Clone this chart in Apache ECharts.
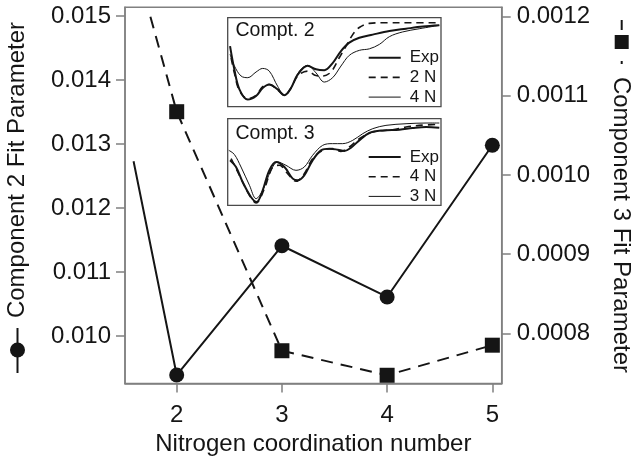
<!DOCTYPE html>
<html>
<head>
<meta charset="utf-8">
<script src="https://cdn.jsdelivr.net/npm/echarts@6/dist/echarts.min.js"></script>
<style>html,body{margin:0;padding:0;background:#fff;}#c{width:641px;height:465px;}</style>
</head>
<body>
<div id="c"></div>
<script>
// ---- main chart data ----
const xTicks = [2, 3, 4, 5];
const leftTicks = [0.010, 0.011, 0.012, 0.013, 0.014, 0.015];
const rightTicks = [0.0008, 0.0009, 0.0010, 0.0011, 0.0012];
const comp2X = [1.59, 2, 3, 4, 5];
const comp2Y = [0.01273, 0.00939, 0.01141, 0.01061, 0.01298];
const comp3X = [1.75, 2, 3, 4, 5];
const comp3Y = [0.00120, 0.001080, 0.000778, 0.000747, 0.000785];

// ---- inset: Compt. 2 ----
const c2ExpX = [1.1,3.1,5.5,9.4,13.3,16.4,19.5,23.4,26.6,29.7,32.8,37.5,41.4,45.3,49.2,53.1,57.0,61.7,68.0,75.8,83.6,91.4,99.2];
const c2ExpY = [0.68,0.42,0.195,0.08,0.12,0.21,0.25,0.195,0.13,0.21,0.36,0.46,0.42,0.41,0.49,0.625,0.72,0.775,0.81,0.85,0.876,0.9,0.914];
const c2N2X = [1.6,3.1,5.5,9.4,13.3,16.4,19.5,23.4,26.6,29.7,32.8,37.5,41.4,44.5,48.4,52.3,55.5,58.6,61.7,66.4,74.2,86.7,99.2];
const c2N2Y = [0.55,0.38,0.18,0.09,0.127,0.225,0.25,0.187,0.127,0.21,0.345,0.40,0.35,0.345,0.39,0.55,0.68,0.81,0.89,0.936,0.944,0.944,0.944];
const c2N4X = [1.1,3.1,6.25,9.4,13.3,16.4,19.5,23.4,26.6,29.7,33.6,37.5,41.4,45.3,49.2,53.1,57.0,61.7,66.4,71.1,75.8,82.0,89.8,99.2];
const c2N4Y = [0.59,0.46,0.345,0.326,0.39,0.43,0.40,0.23,0.127,0.21,0.40,0.464,0.38,0.277,0.326,0.457,0.577,0.633,0.65,0.70,0.787,0.84,0.876,0.914];

// ---- inset: Compt. 3 ----
const c3ExpX = [1.1,3.9,7.0,10.9,13.6,16.4,19.5,22.7,26.6,30.5,32.8,35.9,39.8,43.75,47.7,51.6,54.7,57.8,61.7,66.4,72.7,80.5,86.7,93.0,99.2];
const c3ExpY = [0.519,0.442,0.269,0.096,0.038,0.173,0.404,0.5,0.442,0.308,0.288,0.346,0.519,0.635,0.654,0.642,0.627,0.665,0.75,0.835,0.865,0.873,0.892,0.904,0.896];
const c3N4X = [1.6,5.5,10.2,13.3,17.2,21.1,24.2,28.1,32.0,35.9,39.8,44.5,49.2,53.1,57.0,61.7,68.0,77.3,83.6,89.8,99.2];
const c3N4Y = [0.538,0.346,0.115,0.027,0.192,0.442,0.462,0.365,0.277,0.365,0.538,0.635,0.654,0.623,0.673,0.769,0.846,0.873,0.904,0.923,0.935];
const c3N3X = [0.5,3.1,6.25,10.2,13.3,16.4,20.3,23.4,27.3,32.0,35.9,39.8,44.5,49.2,53.9,58.6,63.3,68.0,74.2,83.6,93.0,99.2];
const c3N3Y = [0.635,0.588,0.442,0.231,0.077,0.173,0.404,0.5,0.462,0.404,0.442,0.577,0.692,0.712,0.712,0.75,0.827,0.885,0.923,0.942,0.95,0.95];

const zip = (xs, ys) => xs.map((x, i) => [x, ys[i]]);
const INK = '#151515';
const FRAME = '#808080';
const FONT = '"Liberation Sans", Arial, sans-serif';

const chart = echarts.init(document.getElementById('c'), null, {renderer: 'canvas'});

function insetLine(name, xs, ys, idx, width, type) {
  return {
    name: name, type: 'line', xAxisIndex: idx, yAxisIndex: idx + 1,
    data: zip(xs, ys), symbol: 'none', smooth: 0.35, silent: true,
    lineStyle: {color: INK, width: width, type: type},
    itemStyle: {color: INK}
  };
}
function legItem(name, width, type) {
  return {name: name, lineStyle: {width: width, type: type, color: INK}};
}

const legendBase = {
  orient: 'vertical', padding: 0, itemWidth: 32, itemHeight: 17, itemGap: 2.7,
  selectedMode: false, formatter: n => n.split('|')[0],
  itemStyle: {opacity: 0, borderWidth: 0},
  textStyle: {fontSize: 17, color: INK, fontFamily: FONT, padding: [0, 0, 0, 4]}
};

const option = {
  animation: false,
  textStyle: {fontFamily: FONT},
  title: [
    {text: 'Compt. 2', left: 235.5, top: 21, padding: 0, textStyle: {fontSize: 19.5, fontWeight: 'normal', color: INK, fontFamily: FONT}},
    {text: 'Compt. 3', left: 235.5, top: 124, padding: 0, textStyle: {fontSize: 19.5, fontWeight: 'normal', color: INK, fontFamily: FONT}}
  ],
  legend: [
    Object.assign({}, legendBase, {left: 367.7, top: 49.2,
      data: [legItem('Exp|2', 2, 'solid'), legItem('2 N|2', 1.6, [7, 5]), legItem('4 N|2', 1, 'solid')]}),
    Object.assign({}, legendBase, {left: 367.7, top: 148.5,
      data: [legItem('Exp|3', 2, 'solid'), legItem('4 N|3', 1.6, [7, 5]), legItem('3 N|3', 1, 'solid')]})
  ],
  grid: [
    {left: 125, top: 7.3, width: 376.7, height: 376.2, show: true, borderColor: FRAME, borderWidth: 1.5, backgroundColor: 'transparent'},
    {left: 227.7, top: 17.7, width: 213.3, height: 89, show: true, borderColor: '#4a4a4a', borderWidth: 1.3, backgroundColor: '#fff'},
    {left: 227.7, top: 118.7, width: 213.3, height: 86.6, show: true, borderColor: '#4a4a4a', borderWidth: 1.3, backgroundColor: '#fff'}
  ],
  xAxis: [
    {
      type: 'value', gridIndex: 0, min: 1.5086, max: 5.089,
      axisLine: {show: true, lineStyle: {color: FRAME, width: 1.5}},
      axisTick: {show: true, length: 9, customValues: xTicks, lineStyle: {color: FRAME, width: 1.5}},
      axisLabel: {customValues: xTicks, fontSize: 24, color: INK, margin: 20},
      splitLine: {show: false},
      name: 'Nitrogen coordination number', nameLocation: 'middle', nameGap: 47,
      nameTextStyle: {fontSize: 24, color: INK}
    },
    {type: 'value', gridIndex: 1, min: 0, max: 100, show: false},
    {type: 'value', gridIndex: 2, min: 0, max: 100, show: false}
  ],
  yAxis: [
    {
      type: 'value', gridIndex: 0, position: 'left', min: 0.009258, max: 0.015136,
      axisLine: {show: true, lineStyle: {color: FRAME, width: 1.5}},
      axisTick: {show: true, length: 9, customValues: leftTicks, lineStyle: {color: FRAME, width: 1.5}},
      axisLabel: {customValues: leftTicks, fontSize: 24, color: INK, margin: 14, formatter: v => v.toFixed(3)},
      splitLine: {show: false}
    },
    {
      type: 'value', gridIndex: 0, position: 'right', min: 0.0007366, max: 0.0012119,
      axisLine: {show: true, lineStyle: {color: FRAME, width: 1.5}},
      axisTick: {show: true, length: 9, customValues: rightTicks, lineStyle: {color: FRAME, width: 1.5}},
      axisLabel: {customValues: rightTicks, fontSize: 24, color: INK, margin: 15, formatter: v => v.toFixed(4)},
      splitLine: {show: false}
    },
    {type: 'value', gridIndex: 1, min: 0, max: 1, show: false},
    {type: 'value', gridIndex: 2, min: 0, max: 1, show: false}
  ],
  series: [
    {
      name: 'Component 2', type: 'line', xAxisIndex: 0, yAxisIndex: 0,
      data: comp2X.map((x, i) => ({value: [x, comp2Y[i]], symbol: i === 0 ? 'none' : 'circle'})),
      symbolSize: 15, showAllSymbol: true,
      lineStyle: {color: INK, width: 2}, itemStyle: {color: INK}, z: 5
    },
    {
      name: 'Component 3', type: 'line', xAxisIndex: 0, yAxisIndex: 1,
      data: comp3X.map((x, i) => ({value: [x, comp3Y[i]], symbol: i === 0 ? 'none' : 'rect'})),
      symbolSize: 15, showAllSymbol: true,
      lineStyle: {color: INK, width: 2, type: [12, 8]}, itemStyle: {color: INK}, z: 5
    },
    insetLine('Exp|2', c2ExpX, c2ExpY, 1, 2, 'solid'),
    insetLine('2 N|2', c2N2X, c2N2Y, 1, 1.6, [7, 5]),
    insetLine('4 N|2', c2N4X, c2N4Y, 1, 1, 'solid'),
    insetLine('Exp|3', c3ExpX, c3ExpY, 2, 2, 'solid'),
    insetLine('4 N|3', c3N4X, c3N4Y, 2, 1.6, [7, 5]),
    insetLine('3 N|3', c3N3X, c3N3Y, 2, 1, 'solid')
  ],
  graphic: [
    {type: 'text', x: 17, y: 170, rotation: Math.PI / 2,
     style: {text: 'Component 2 Fit Parameter', fontSize: 24, fontFamily: FONT, fill: INK, textAlign: 'center', textVerticalAlign: 'middle'}},
    {type: 'line', shape: {x1: 17.5, y1: 328, x2: 17.5, y2: 373}, style: {stroke: INK, lineWidth: 2}},
    {type: 'circle', shape: {cx: 17.5, cy: 350, r: 7.5}, style: {fill: INK}},
    {type: 'text', x: 621, y: 225, rotation: -Math.PI / 2,
     style: {text: 'Component 3 Fit Parameter', fontSize: 24, fontFamily: FONT, fill: INK, textAlign: 'center', textVerticalAlign: 'middle'}},
    {type: 'line', shape: {x1: 621.7, y1: 20, x2: 621.7, y2: 30}, style: {stroke: INK, lineWidth: 2}},
    {type: 'rect', shape: {x: 614.7, y: 35, width: 14, height: 14}, style: {fill: INK}},
    {type: 'line', shape: {x1: 621.7, y1: 61, x2: 621.7, y2: 64}, style: {stroke: INK, lineWidth: 2}}
  ]
};
chart.setOption(option);
</script>
</body>
</html>
